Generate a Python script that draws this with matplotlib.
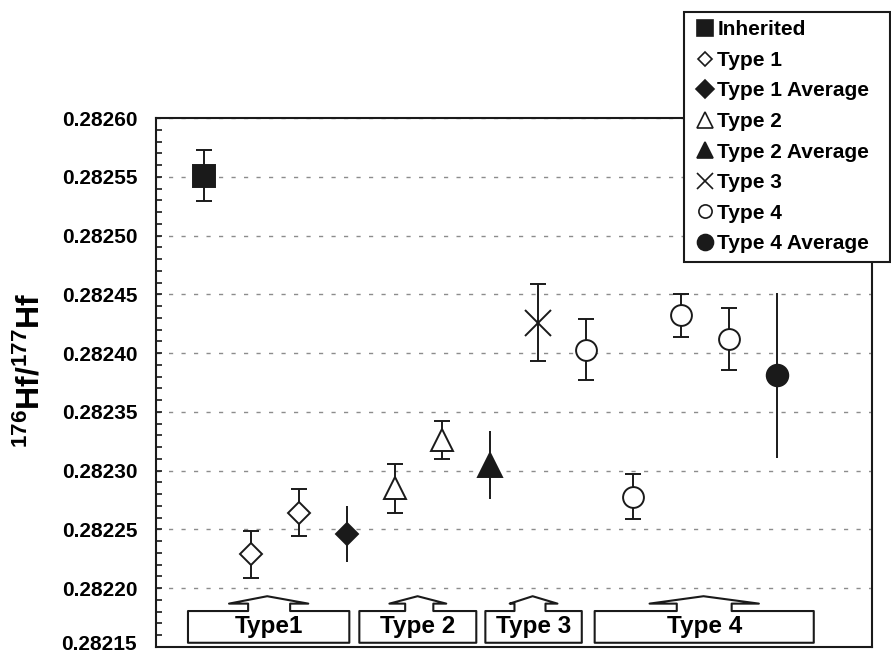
import numpy as np
import matplotlib
matplotlib.use('Agg')
import matplotlib.pyplot as plt
from matplotlib.lines import Line2D
from matplotlib.patches import Polygon
from matplotlib.transforms import blended_transform_factory, ScaledTranslation
from matplotlib.ticker import FixedLocator, MultipleLocator, FuncFormatter

plt.rcParams['font.family'] = ['Liberation Sans', 'DejaVu Sans']
plt.rcParams['font.weight'] = 'bold'
plt.rcParams['mathtext.fontset'] = 'custom'
plt.rcParams['mathtext.bf'] = 'Liberation Sans:bold'
plt.rcParams['mathtext.rm'] = 'Liberation Sans:bold'
plt.rcParams['mathtext.default'] = 'bf'

INK = '#1a1a1a'

# 176Hf/177Hf ratios with 2-sigma errors, one x slot per analysis
inh_x = [1]
inh_y = [0.282551]
inh_err = [0.000022]

t1_x = [2, 3]
t1_y = [0.282229, 0.282264]
t1_err = [0.000020, 0.000020]

t1avg_x = [4]
t1avg_y = [0.282246]
t1avg_err = [0.000024]

t2_x = [5, 6]
t2_y = [0.282285, 0.282326]
t2_err = [0.000021, 0.000016]

t2avg_x = [7]
t2avg_y = [0.282305]
t2avg_err = [0.000029]

t3_x = [8]
t3_y = [0.282426]
t3_err = [0.000033]

t4_x = [9, 10, 11, 12]
t4_y = [0.282403, 0.282278, 0.282432, 0.282412]
t4_err = [0.000026, 0.000019, 0.000018, 0.000026]

t4avg_x = [13]
t4avg_y = [0.282381]
t4avg_err = [0.000070]

yticks = [0.28215, 0.28220, 0.28225, 0.28230, 0.28235,
          0.28240, 0.28245, 0.28250, 0.28255, 0.28260]
group_labels = ['Type1', 'Type 2', 'Type 3', 'Type 4']

fig = plt.figure(figsize=(8.91, 6.54), dpi=100)
ax = fig.add_axes([156 / 891, 7 / 654, 716 / 891, 529 / 654])

# (label, x, y, err, marker, ms, filled, capped, legend ms)
series = [
    ('Inherited', inh_x, inh_y, inh_err, 's', 15.5, True, True, 11),
    ('Type 1', t1_x, t1_y, t1_err, 'D', 11, False, True, 7.6),
    ('Type 1 Average', t1avg_x, t1avg_y, t1avg_err, 'D', 11.7, True, False, 8.7),
    ('Type 2', t2_x, t2_y, t2_err, '^', 15.5, False, True, 11),
    ('Type 2 Average', t2avg_x, t2avg_y, t2avg_err, '^', 17, True, False, 12),
    ('Type 3', t3_x, t3_y, t3_err, 'x', 19, False, True, 11),
    ('Type 4', t4_x, t4_y, t4_err, 'o', 15, False, True, 9.5),
    ('Type 4 Average', t4avg_x, t4avg_y, t4avg_err, 'o', 15.5, True, False, 11.5),
]

handles = []
for label, x, y, err, mk, ms, filled, capped, lms in series:
    ax.errorbar(x, y, yerr=err, fmt='none', ecolor=INK, elinewidth=1.4,
                capsize=5.5 if capped else 0, capthick=1.4, zorder=2)
    fc = INK if filled else 'white'
    ax.plot(x, y, ls='none', marker=mk, ms=ms, mfc=fc, mec=INK,
            mew=1.4, zorder=3)
    handles.append(Line2D([], [], ls='none', marker=mk, ms=lms, mfc=fc,
                          mec=INK, mew=1.2, label=label))

ax.set_xlim(0, 15)
ax.set_ylim(0.28215, 0.28260)
ax.set_xticks([])
ax.yaxis.set_major_locator(FixedLocator(yticks))
ax.yaxis.set_minor_locator(MultipleLocator(0.00001))
# lowest label sits on the frame corner, drawn separately a touch higher
ax.yaxis.set_major_formatter(
    FuncFormatter(lambda v, p: '' if v < yticks[0] + 1e-7 else f'{v:.5f}'))
ax.tick_params(axis='y', which='both', direction='in', length=4, width=1.2,
               color=INK, labelsize=15, pad=13.5)
for lab in ax.get_yticklabels():
    lab.set_fontweight('bold')
for sp in ax.spines.values():
    sp.set_linewidth(1.5)
    sp.set_color(INK)
ax.yaxis.grid(True, which='major', color='#8c8c8c', lw=1.0,
              ls=(0, (3, 6)), zorder=0)
ax.set_axisbelow(True)

low_tr = blended_transform_factory(ax.transAxes, ax.transData) + \
    ScaledTranslation(-13.5 / 72, -2.4 / 72, fig.dpi_scale_trans)
ax.text(0, yticks[0], f'{yticks[0]:.5f}', transform=low_tr, ha='right',
        va='baseline', fontsize=15, fontweight='bold', clip_on=False)

fig.text(31 / 891, 1 - 370 / 654, r'$^{176}$Hf/$^{177}$Hf', rotation=90,
         ha='center', va='center', fontsize=23, fontweight='bold')

# group callouts along the bottom: box with an upward arrow
tr = blended_transform_factory(ax.transData, ax.transAxes)
callouts = [
    (0.67, 4.05, 1.53, 3.19, 2.33, 1.93, 2.81),
    (4.26, 6.71, 4.89, 6.08, 5.48, 5.22, 5.81),
    (6.90, 8.92, 7.41, 8.41, 7.89, 7.51, 8.16),
    (9.19, 13.78, 10.34, 12.63, 11.47, 10.91, 12.06),
]
bot, top, base, peak = 0.008, 0.068, 0.082, 0.096
for (bl, br, wl, wr, pk, sl, sr), name in zip(callouts, group_labels):
    verts = [(bl, bot), (bl, top), (sl, top), (sl, base), (wl, base),
             (pk, peak), (wr, base), (sr, base), (sr, top), (br, top),
             (br, bot)]
    ax.add_patch(Polygon(verts, closed=True, transform=tr, fc='white',
                         ec=INK, lw=1.5, joinstyle='round', zorder=4))
    ax.text((bl + br) / 2, (bot + top) / 2, name, transform=tr,
            ha='center', va='center', fontsize=17.5, fontweight='bold',
            zorder=5)

leg = fig.legend(handles=handles, loc='upper left', mode='expand',
                 bbox_to_anchor=(684 / 891, 1 - 262 / 654, 206 / 891, 250 / 654),
                 borderaxespad=0, frameon=True, fancybox=False,
                 framealpha=1, edgecolor=INK, handlelength=1.2,
                 handletextpad=0.0, borderpad=0.4, labelspacing=0.555,
                 prop={'weight': 'bold', 'size': 15})
leg.get_frame().set_linewidth(1.5)

fig.savefig('out.png', dpi=100)
